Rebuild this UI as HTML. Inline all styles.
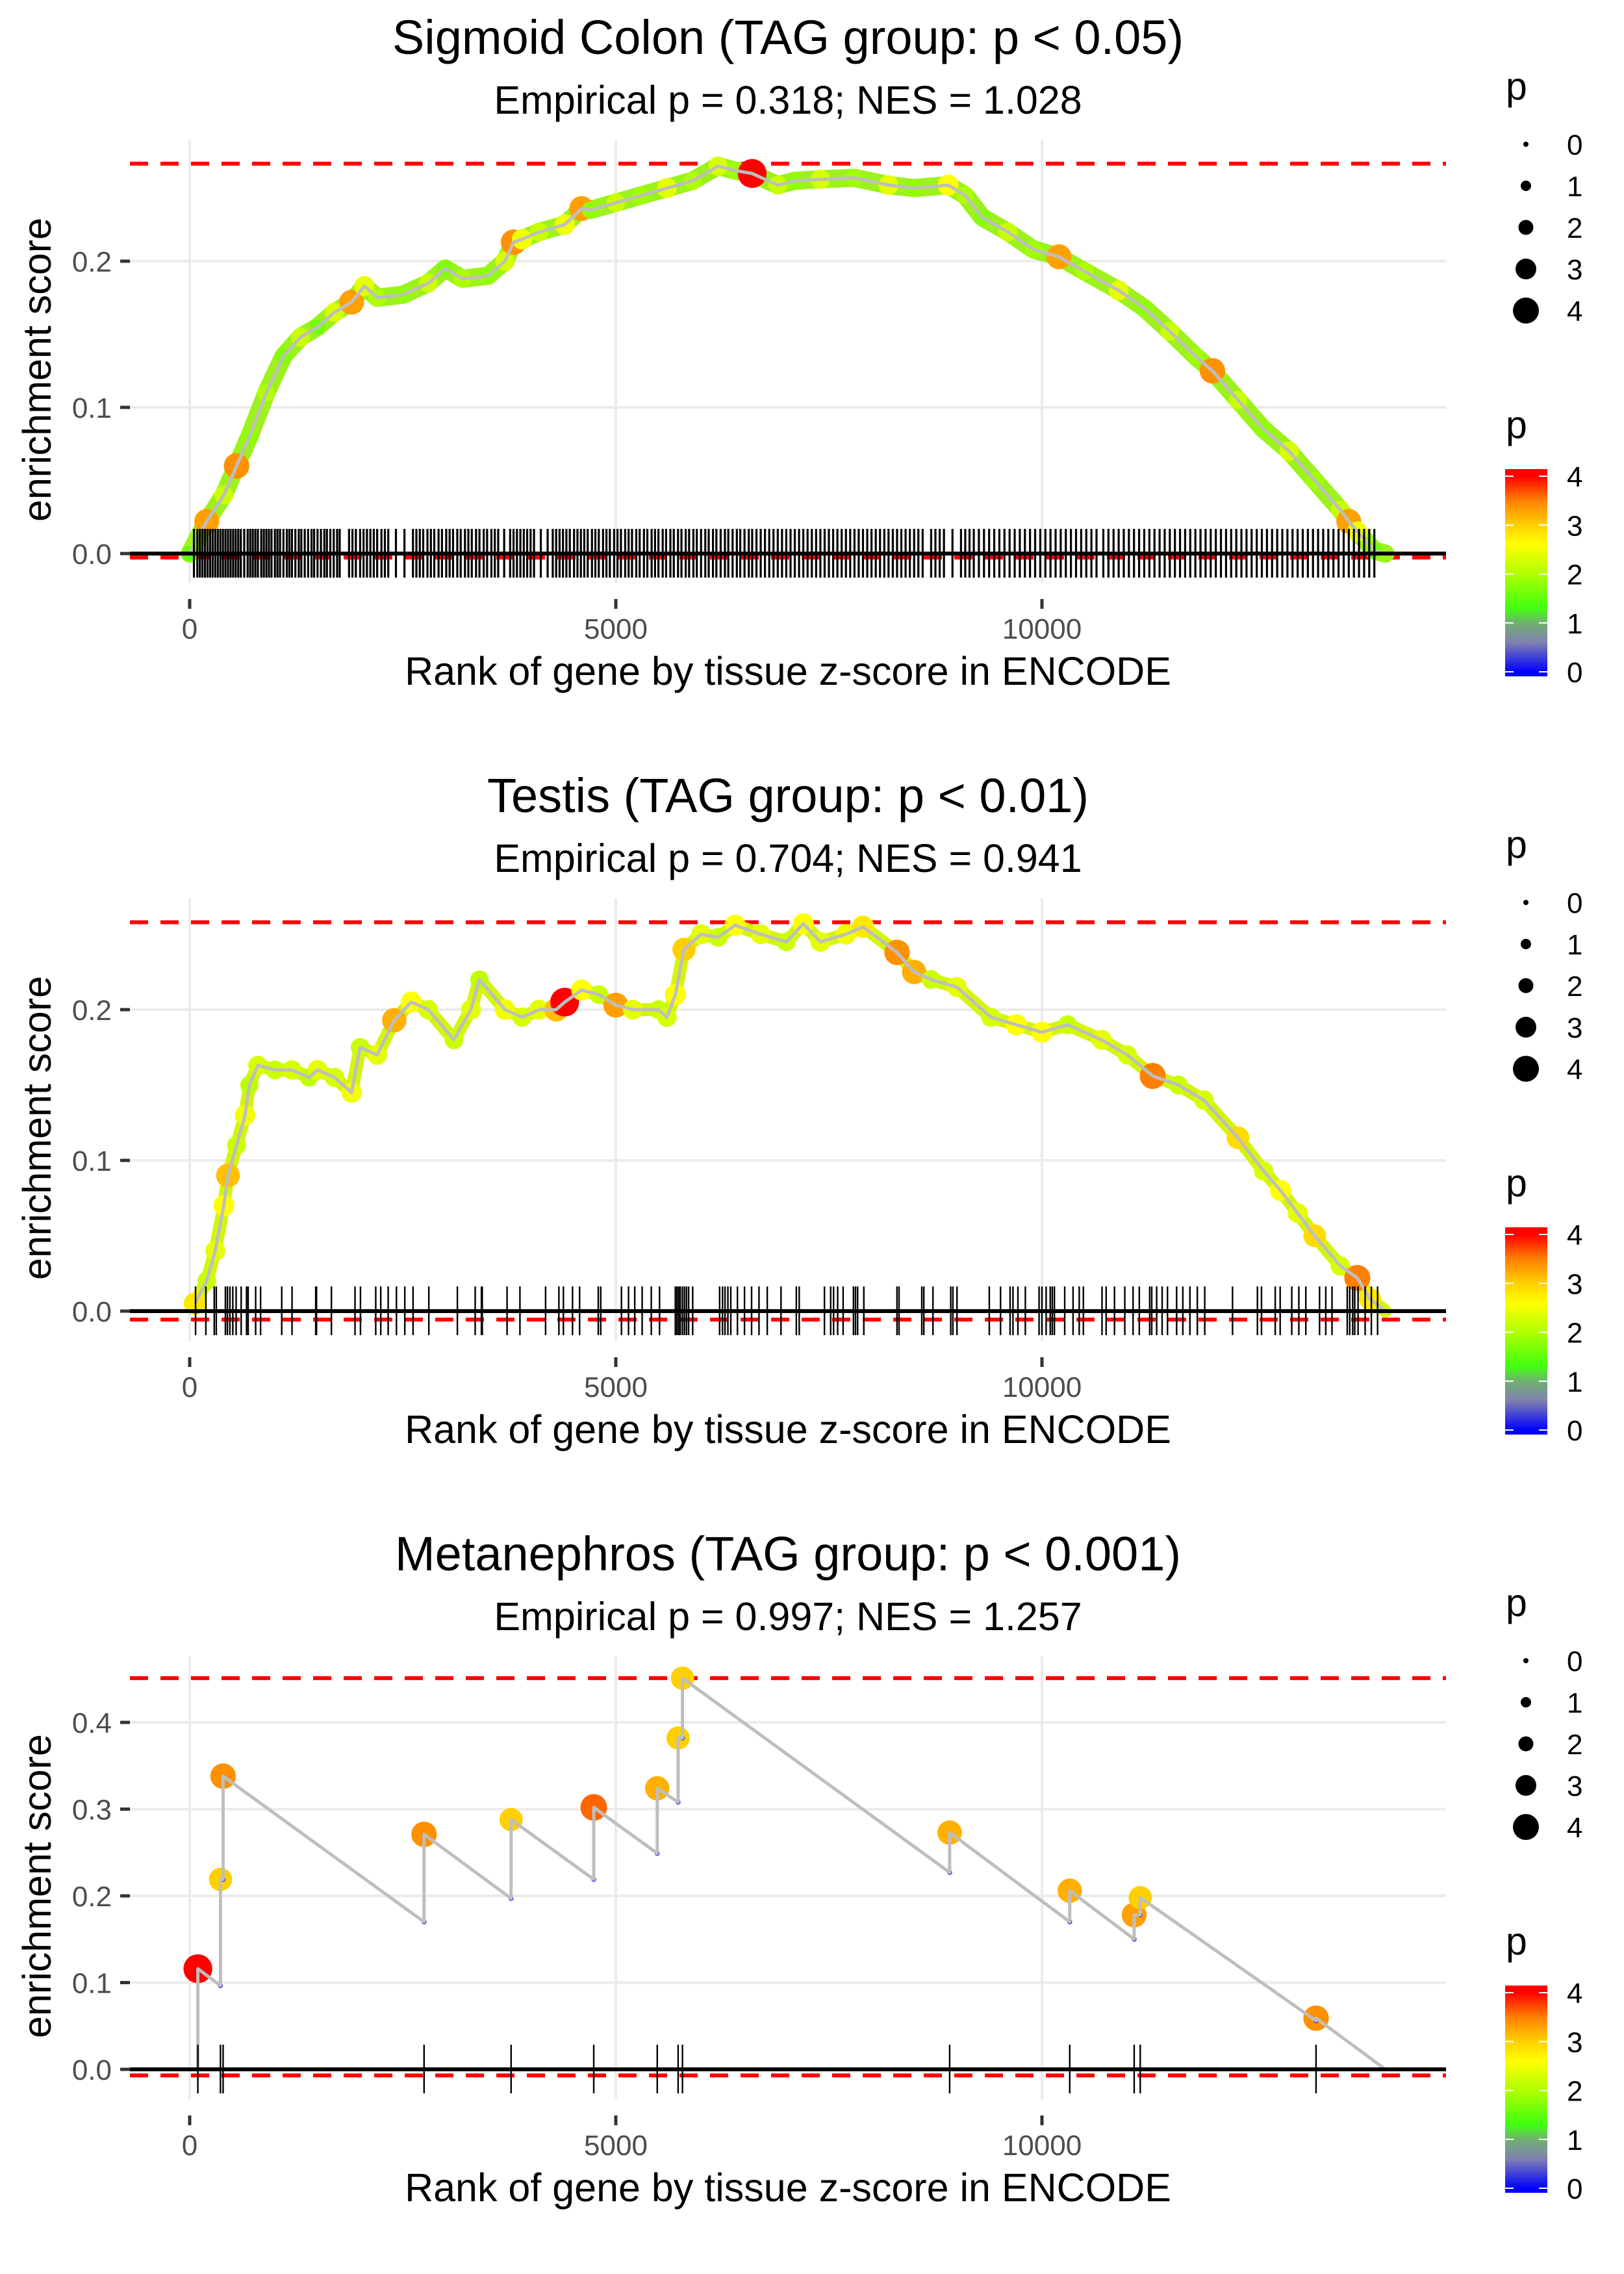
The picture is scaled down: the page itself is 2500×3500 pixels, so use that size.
<!DOCTYPE html>
<html><head><meta charset="utf-8"><style>
html,body{margin:0;padding:0;background:#fff}
svg{display:block}
text{font-family:"Liberation Sans",Arial,sans-serif}
</style></head><body>
<svg id="fig" width="2500" height="3500" viewBox="0 0 2500 3500" xmlns="http://www.w3.org/2000/svg"></svg>
<script>
// ---------- data ----------
const titles = ["Sigmoid Colon (TAG group: p < 0.05)","Testis (TAG group: p < 0.01)","Metanephros (TAG group: p < 0.001)"];
const subtitles = ["Empirical p = 0.318; NES = 1.028","Empirical p = 0.704; NES = 0.941","Empirical p = 0.997; NES = 1.257"];
const xTicks = [0,5000,10000];
const yTicks1 = [0,0.1,0.2];
const yTicks2 = [0,0.1,0.2];
const yTicks3 = [0,0.1,0.2,0.3,0.4];
const maxES = [0.2667,0.258,0.451];
const minES = [-0.0027,-0.0056,-0.007];
const endRank = 14030;

const ranks1 = [0,200,400,550,700,900,1100,1300,1500,1700,1900,2050,2200,2500,2800,3000,3200,3500,3700,3800,3900,4100,4400,4600,4700,5000,5300,5600,5900,6200,6400,6600,6900,7100,7400,7800,8200,8500,8900,9100,9300,9600,9900,10200,10500,10900,11200,11500,11800,12000,12300,12600,12900,13200,13500,13600,13700,13900];
const es1 =    [0,0.022,0.04,0.06,0.08,0.11,0.135,0.148,0.155,0.165,0.172,0.183,0.175,0.177,0.185,0.195,0.188,0.19,0.2,0.213,0.215,0.22,0.225,0.236,0.235,0.24,0.245,0.25,0.255,0.265,0.262,0.26,0.252,0.255,0.256,0.257,0.252,0.25,0.252,0.245,0.23,0.22,0.208,0.203,0.193,0.18,0.168,0.152,0.135,0.125,0.105,0.085,0.07,0.05,0.03,0.022,0.015,0.002];
const p1 =     [1.5,3.3,2.2,3.4,1.8,2,1.7,2.2,1.6,2.3,3.3,2.4,2,1.8,2.2,1.7,2,1.8,2.3,3.4,2.5,2.2,2.5,3.3,1.8,2.2,1.9,2.4,2,2.3,1.9,4,2.2,1.8,2.3,1.9,2.4,1.8,2.6,2,1.7,2.2,1.9,3.3,2,2.4,1.8,2.2,1.9,3.4,2.2,1.8,2.3,1.9,2.2,3.3,2.5,1.6];
const rug1 = [50,90,120,150,180,210,240,270,300,330,360,390,420,450,480,510,540,570,600,640,680,710,740,770,800,840,870,900,930,960,1000,1030,1060,1100,1140,1170,1200,1240,1280,1310,1350,1390,1430,1460,1500,1540,1580,1610,1650,1690,1730,1760,1870,1910,1950,2000,2040,2080,2120,2160,2200,2250,2290,2330,2420,2520,2620,2660,2700,2740,2790,2830,2870,2920,2960,3010,3050,3090,3140,3180,3230,3270,3310,3360,3400,3450,3490,3540,3580,3620,3690,3760,3800,3840,3880,3920,3960,4000,4040,4120,4200,4260,4300,4340,4380,4420,4460,4510,4550,4590,4630,4670,4720,4760,4800,4850,4890,4930,4980,5020,5060,5110,5150,5190,5240,5280,5330,5370,5420,5460,5500,5550,5590,5640,5680,5730,5770,5820,5860,5910,5950,6000,6050,6090,6140,6180,6230,6280,6320,6370,6420,6460,6510,6560,6600,6650,6700,6750,6800,6850,6900,6950,7000,7050,7100,7150,7200,7250,7300,7350,7400,7450,7500,7550,7600,7650,7700,7750,7800,7850,7900,7950,8000,8050,8100,8150,8200,8250,8300,8350,8400,8450,8500,8550,8600,8700,8750,8800,8850,8950,9050,9100,9150,9200,9260,9320,9380,9440,9500,9560,9620,9680,9740,9800,9860,9920,9980,10040,10100,10160,10220,10280,10340,10400,10460,10520,10580,10640,10720,10780,10840,10900,10960,11020,11080,11140,11200,11260,11320,11380,11440,11500,11560,11620,11680,11740,11800,11860,11920,11980,12040,12100,12160,12220,12280,12340,12400,12460,12520,12580,12640,12700,12760,12820,12880,12940,13000,13060,13120,13180,13240,13300,13360,13420,13480,13540,13600,13660,13720,13780,13840,13900];

const ranks2 = [60,200,300,400,450,550,650,700,800,1000,1200,1400,1500,1700,1900,2000,2200,2400,2600,2800,3100,3300,3400,3700,3900,4100,4300,4400,4600,4800,5000,5200,5500,5600,5700,5800,6000,6200,6400,6700,7000,7200,7400,7700,7900,8300,8500,8700,9000,9400,9700,10000,10300,10700,11000,11300,11600,11900,12300,12600,12800,13000,13200,13500,13700,13850];
const es2 =    [0.005,0.02,0.04,0.07,0.09,0.11,0.13,0.15,0.163,0.16,0.16,0.155,0.16,0.155,0.145,0.175,0.17,0.193,0.205,0.2,0.18,0.2,0.22,0.2,0.195,0.2,0.2,0.205,0.213,0.21,0.203,0.2,0.2,0.195,0.21,0.24,0.25,0.248,0.256,0.25,0.245,0.257,0.245,0.25,0.255,0.238,0.225,0.22,0.215,0.195,0.19,0.185,0.19,0.18,0.17,0.156,0.15,0.14,0.115,0.093,0.08,0.065,0.05,0.03,0.022,0.008];
const p2 =     [2.8,2.2,2.4,2.6,3.1,2.2,2.5,2.1,2.3,2.2,2.3,2.1,2.4,2.3,2.5,2.2,2.4,3.2,2.6,2.3,2.2,2.4,2.1,2.5,2.3,2.4,3.1,4,2.6,2.2,3.3,2.4,2.2,2.3,2.6,3.0,2.4,2.2,2.6,2.4,2.2,2.6,2.4,2.5,2.8,3.4,3.2,2.2,2.4,2.3,2.6,2.6,2.2,2.4,2.3,3.5,2.2,2.3,2.9,2.3,2.6,2.4,2.9,2.3,3.5,2.8];
const rug2 = [69,190,288,312,419,443,472,506,545,604,667,686,774,832,1080,1201,1479,1488,1663,1940,2004,2183,2242,2329,2426,2524,2621,2806,3141,3350,3423,3433,3724,3875,4176,4332,4385,4492,4575,4794,4823,5066,5149,5222,5309,5416,5513,5698,5717,5737,5756,5781,5805,5829,5854,5902,6218,6252,6281,6315,6349,6427,6510,6593,6680,6777,6938,7118,7152,7448,7521,7555,7603,7667,7788,7812,7837,7910,8299,8323,8590,8614,8721,8930,8955,9003,9382,9514,9626,9660,9718,9805,9966,10000,10049,10097,10121,10146,10267,10365,10437,10486,10705,10753,10851,10972,11069,11142,11264,11288,11346,11410,11473,11580,11653,11736,11823,11910,12236,12528,12576,12737,12795,12931,13014,13096,13257,13330,13403,13582,13611,13646,13670,13709,13792,13865,13938];

const ranks3 = [96,361,392,2750,3771,4741,5486,5731,5782,8917,10326,11082,11153,13216];
const es3 =    [0.116,0.219,0.338,0.271,0.288,0.302,0.324,0.382,0.451,0.273,0.206,0.178,0.198,0.059];
const pre3 =   [0,0.0965,0.219,0.170,0.197,0.219,0.249,0.308,0.382,0.227,0.170,0.150,0.178,0.056];
const p3 =     [4,3.0,3.4,3.4,3.0,3.6,3.2,3.0,3.0,3.2,3.2,3.3,3.0,3.4];

// ---------- helpers ----------
const NS="http://www.w3.org/2000/svg";
const svg=document.getElementById('fig');
function mk(tag,attrs,parent){const e=document.createElementNS(NS,tag);for(const k in attrs)e.setAttribute(k,attrs[k]);(parent||svg).appendChild(e);return e;}
const stops=[[0,[0,0,255]],[0.6,[128,128,176]],[1,[112,176,112]],[1.3,[64,255,16]],[2,[176,255,0]],[2.6,[255,255,0]],[3,[255,208,0]],[3.5,[255,128,0]],[4,[255,0,0]]];
function pcol(p){p=Math.max(0,Math.min(4,p));for(let i=1;i<stops.length;i++){if(p<=stops[i][0]){const a=stops[i-1],b=stops[i];const t=(p-a[0])/(b[0]-a[0]);const c=a[1].map((v,j)=>Math.round(v+(b[1][j]-v)*t));return `rgb(${c[0]},${c[1]},${c[2]})`;}}return 'red';}
function prad(p){return 5+p*4.3;}
const X0=292, XS=0.1312;
function xs(r){return X0+r*XS;}

const panels=[
 {dy:0,y0:852,ys:2250,ticks:yTicks1,ranks:ranks1,es:es1,p:p1,rug:rug1,under:true,rugw:3.2},
 {dy:1167,y0:2018,ys:2320,ticks:yTicks2,ranks:ranks2,es:es2,p:p2,rug:rug2,under:true,rugw:2.4},
 {dy:2334,y0:3185,ys:1335,ticks:yTicks3,ranks:ranks3,es:es3,p:p3,rug:ranks3,pre:pre3,rugw:2.4}
];

panels.forEach((P,i)=>{
 const g=mk('g',{});
 
 
 const ysc=v=>P.y0-v*P.ys;
 const top=216+P.dy, bot=897+P.dy;
 const t=mk('text',{x:1213,y:83+P.dy,'font-size':74,'text-anchor':'middle',fill:'#000'},g);t.textContent=titles[i];
 
 
 const st=mk('text',{x:1213,y:175+P.dy,'font-size':61,'text-anchor':'middle',fill:'#000'},g);st.textContent=subtitles[i];
 
 
 xTicks.forEach(v=>{const l=mk('line',{x1:xs(v),x2:xs(v),y1:top,y2:bot,stroke:'#ebebeb','stroke-width':4},g);
  
  });
 P.ticks.forEach(v=>{const l=mk('line',{x1:200,x2:2226,y1:ysc(v),y2:ysc(v),stroke:'#ebebeb','stroke-width':4},g);
  
  });
 P.ticks.forEach(v=>{mk('line',{x1:185,x2:200,y1:ysc(v),y2:ysc(v),stroke:'#333','stroke-width':5},g);
  const tl=mk('text',{x:172,y:ysc(v)+16,'font-size':44,'text-anchor':'end',fill:'#4d4d4d'},g);tl.textContent=v.toFixed(1);
  
  });
 xTicks.forEach(v=>{mk('line',{x1:xs(v),x2:xs(v),y1:922+P.dy,y2:937+P.dy,stroke:'#333','stroke-width':5},g);
  const tl=mk('text',{x:xs(v),y:983+P.dy,'font-size':44,'text-anchor':'middle',fill:'#4d4d4d'},g);tl.textContent=String(v);
  
  });
 const xt=mk('text',{x:1213,y:1054+P.dy,'font-size':61,'text-anchor':'middle',fill:'#000'},g);xt.textContent='Rank of gene by tissue z-score in ENCODE';
 
 
 const yt=mk('text',{x:0,y:0,'font-size':61,'text-anchor':'middle',fill:'#000',transform:`translate(78,${569+P.dy}) rotate(-90)`},g);yt.textContent='enrichment score';
 
 
 [maxES[i],minES[i]].forEach(v=>{const l=mk('line',{x1:200,x2:2226,y1:ysc(v),y2:ysc(v),stroke:'#ff0000','stroke-width':6,'stroke-dasharray':'28,19'},g);
  
  });
 let pts=[];
 if(P.pre){
  pts.push([xs(0),ysc(0)]);
  P.ranks.forEach((r,k)=>{pts.push([xs(r),ysc(P.pre[k])]);pts.push([xs(r),ysc(P.es[k])]);});
  pts.push([xs(endRank),ysc(0)]);
 } else {
  P.ranks.forEach((r,k)=>pts.push([xs(r),ysc(P.es[k])]));
  pts.push([xs(endRank),ysc(0)]);
 }
 if(P.under){
  const u=mk('polyline',{points:pts.map(q=>q.join(',')).join(' '),fill:'none',stroke:i==0?'#9cf21a':'#d4f50a','stroke-width':i==0?28:20,'stroke-linejoin':'round','stroke-linecap':'round'},g);
  
  
 }
 P.ranks.forEach((r,k)=>{const c=mk('circle',{cx:xs(r),cy:ysc(P.es[k]),r:prad(P.p[k]),fill:pcol(P.p[k])},g);
  
  });
 if(P.pre){P.ranks.forEach((r,k)=>{const c=mk('circle',{cx:xs(r),cy:ysc(P.pre[k]),r:3,fill:'none',stroke:'#3030ff','stroke-width':1.5},g);
  
  });}
 const line=mk('polyline',{points:pts.map(q=>q.join(',')).join(' '),fill:'none',stroke:'#bebebe','stroke-width':5,'stroke-linejoin':'round'},g);
 
 
 P.rug.forEach(r=>{const l=mk('line',{x1:xs(r),x2:xs(r),y1:P.y0-38,y2:P.y0+37,stroke:'#000','stroke-width':P.rugw},g);
  
  });
 const z=mk('line',{x1:200,x2:2226,y1:P.y0,y2:P.y0,stroke:'#000','stroke-width':6},g);
 
 
 const lg=mk('g',{},g);
 
 
 const lt=mk('text',{x:2318,y:153+P.dy,'font-size':59,fill:'#000'},lg);lt.textContent='p';
 [0,1,2,3,4].forEach((v,k)=>{const cy=222+k*64+P.dy;
  const c=mk('circle',{cx:2349,cy:cy,r:[4,8,11.5,16,20][k],fill:'#000'},lg);
  
  
  const tx=mk('text',{x:2412,y:cy+16,'font-size':44,fill:'#000'},lg);tx.textContent=String(v);});
 const cg=mk('g',{},g);
 
 
 const ct=mk('text',{x:2318,y:674+P.dy,'font-size':59,fill:'#000'},cg);ct.textContent='p';
 const gid='grad'+i;
 const defs=mk('defs',{},cg);const lgr=mk('linearGradient',{id:gid,x1:0,y1:1,x2:0,y2:0},defs);
 stops.forEach(s=>{const yv=1034-s[0]*75.25;const off=(1041-yv)/(1041-722);mk('stop',{offset:off,'stop-color':`rgb(${s[1].join(',')})`},lgr);});
 mk('rect',{x:2317,y:722+P.dy,width:65,height:319,fill:`url(#${gid})`},cg);
 [0,1,2,3,4].forEach(v=>{const yy=1034-v*75.25+P.dy;
  mk('line',{x1:2317,x2:2330,y1:yy,y2:yy,stroke:'#fff','stroke-width':2},cg);
  mk('line',{x1:2369,x2:2382,y1:yy,y2:yy,stroke:'#fff','stroke-width':2},cg);
  const tx=mk('text',{x:2412,y:yy+16,'font-size':44,fill:'#000'},cg);tx.textContent=String(v);});
});
</script>
</body></html>
